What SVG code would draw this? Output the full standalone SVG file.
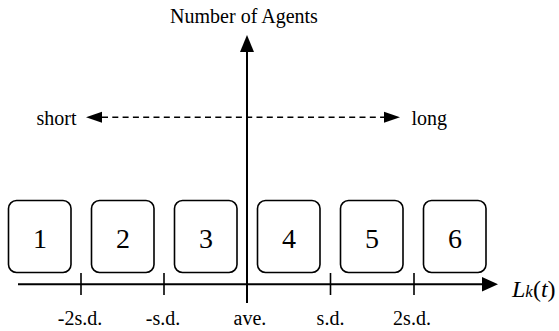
<svg xmlns="http://www.w3.org/2000/svg" width="559" height="331" viewBox="0 0 559 331">
  <style>
    text { font-family: "Liberation Serif", "Times New Roman", Times, serif; fill: #000; }
    .lbl { font-size: 20px; text-anchor: middle; }
    .side { font-size: 20px; }
    .num { font-size: 28px; text-anchor: middle; }
    .box { fill: #fff; stroke: #000; stroke-width: 1.6; }
    .axis { stroke: #000; stroke-width: 2; fill: none; }
    .tick { stroke: #000; stroke-width: 1.6; }
    .dash { stroke: #000; stroke-width: 1.6; stroke-dasharray: 6 4.3; fill: none; }
  </style>

  <!-- axes, ticks and the dashed short/long guide -->
  <g id="connectors">
    <line class="axis" x1="247" y1="303" x2="247" y2="50"/>
    <polygon points="247,35 240,52 254,52" fill="#000"/>
    <line class="axis" x1="18" y1="284.3" x2="484" y2="284.3"/>
    <polygon points="498,284.3 482,277 482,291.6" fill="#000"/>
    <line class="tick" x1="81" y1="273" x2="81" y2="295"/>
    <line class="tick" x1="164" y1="273" x2="164" y2="295"/>
    <line class="tick" x1="330.5" y1="273" x2="330.5" y2="295"/>
    <line class="tick" x1="414" y1="273" x2="414" y2="295"/>
    <line class="dash" x1="102" y1="117.3" x2="384" y2="117.3"/>
    <polygon points="86,117.3 102,111.8 102,122.8" fill="#000"/>
    <polygon points="400,117.3 384,111.8 384,122.8" fill="#000"/>
  </g>

  <!-- axis titles -->
  <g id="axis-labels">
    <text class="lbl" x="244" y="23">Number of Agents</text>
    <text class="side" x="36.5" y="125">short</text>
    <text class="side" x="411.5" y="125">long</text>
    <text x="512" y="297" font-size="24"><tspan font-style="italic">L</tspan><tspan font-style="italic" font-size="17">k</tspan>(<tspan font-style="italic">t</tspan>)</text>
  </g>

  <!-- scale labels under the horizontal axis -->
  <g id="scale-labels">
    <text class="lbl" x="80" y="325">-2s.d.</text>
    <text class="lbl" x="163" y="325">-s.d.</text>
    <text class="lbl" x="250" y="325">ave.</text>
    <text class="lbl" x="330.5" y="325">s.d.</text>
    <text class="lbl" x="412" y="325">2s.d.</text>
  </g>

  <!-- groups 1..6 -->
  <g id="group-1"><rect class="box" x="8.5" y="200.5" width="62.5" height="72" rx="8"/><text class="num" x="40" y="247.5">1</text></g>
  <g id="group-2"><rect class="box" x="91.5" y="200.5" width="62.5" height="72" rx="8"/><text class="num" x="123" y="247.5">2</text></g>
  <g id="group-3"><rect class="box" x="174.5" y="200.5" width="62.5" height="72" rx="8"/><text class="num" x="206" y="247.5">3</text></g>
  <g id="group-4"><rect class="box" x="257.5" y="200.5" width="62.5" height="72" rx="8"/><text class="num" x="289" y="247.5">4</text></g>
  <g id="group-5"><rect class="box" x="340.5" y="200.5" width="62.5" height="72" rx="8"/><text class="num" x="372" y="247.5">5</text></g>
  <g id="group-6"><rect class="box" x="423.5" y="200.5" width="62.5" height="72" rx="8"/><text class="num" x="455" y="247.5">6</text></g>
</svg>
